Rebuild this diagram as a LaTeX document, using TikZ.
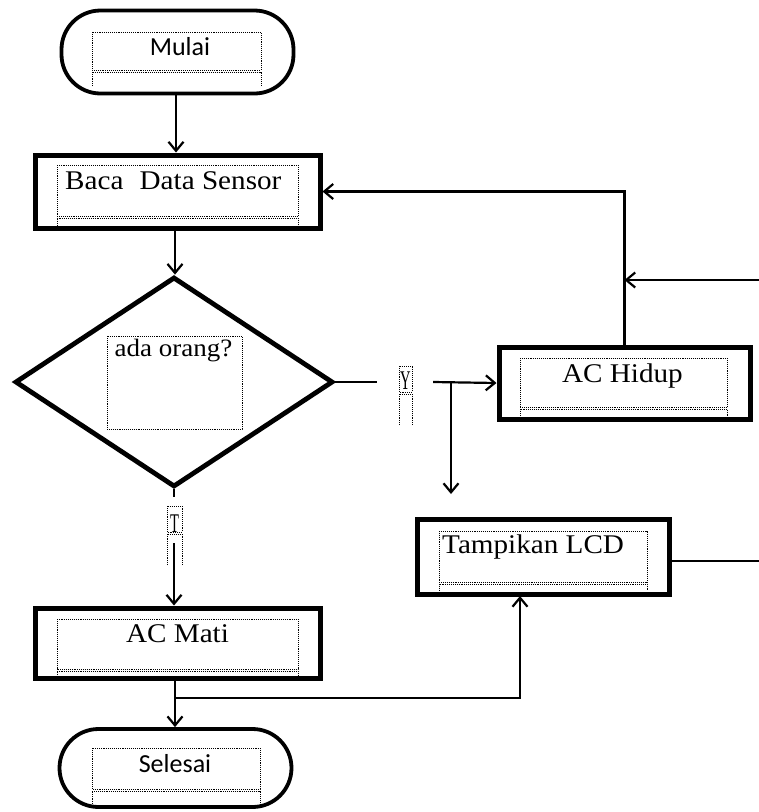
\documentclass[tikz,border=0pt]{standalone}
\usepackage{fontspec}
\usepackage{graphicx}
\usetikzlibrary{shapes.geometric,arrows.meta,calc}
\newfontfamily\serifx[FakeStretch=1.08]{Liberation Serif}
\newfontfamily\sansx{Carlito}
\begin{document}
\begin{tikzpicture}[x=1pt,y=-1pt,
  box/.style={draw, rectangle, line width=5pt, inner sep=0},
  term/.style={draw, rectangle, rounded corners=39pt, line width=3.8pt, inner sep=0},
  dec/.style={draw, diamond, line width=4.8pt, inner sep=0},
  conn/.style={line width=2.2pt},
  arr/.style={conn, -{Straight Barb[length=9pt,width=15pt,line width=2.2pt]}},
  dotbox/.style={draw, densely dotted, line width=0.9pt},
  lbl/.style={inner sep=0, anchor=base},
  gap/.style={inner sep=0, minimum width=1pt, minimum height=1pt},
  stxt/.style={lbl, font=\serifx\fontsize{27}{30}\selectfont},
  ttxt/.style={lbl, font=\sansx\fontsize{26}{30}\selectfont}
]
\useasboundingbox (0,0) rectangle (759,812);

% shapes
\node[term, minimum width=232pt, minimum height=83pt] (mulai) at (177.5,52) {};
\node[box, minimum width=285pt, minimum height=73pt] (baca) at (177.5,191.5) {};
\node[dec, minimum width=318pt, minimum height=210pt] (dia) at (174,382) {};
\node[box, minimum width=251pt, minimum height=72pt] (achidup) at (624.5,383) {};
\node[box, minimum width=252pt, minimum height=75pt] (lcd) at (543,556.5) {};
\node[box, minimum width=285pt, minimum height=70pt] (acmati) at (177.5,643) {};
\node[term, minimum width=232pt, minimum height=78pt] (selesai) at (175.5,768) {};

% dotted text boxes
\draw[dotbox] (92,32) rectangle (261,70);
\draw[dotbox] (92,86) -- (92,72) -- (261,72) -- (261,86);
\draw[dotbox] (57,165) rectangle (298,216);
\draw[dotbox] (57,226) -- (57,218) -- (298,218) -- (298,226);
\draw[dotbox] (107,336) rectangle (242,429);
\draw[dotbox] (399,366) rectangle (412,392);
\draw[dotbox] (399,425) -- (399,394) -- (412,394) -- (412,425);
\draw[dotbox] (520,358) rectangle (727,407);
\draw[dotbox] (520,416) -- (520,409) -- (727,409) -- (727,416);
\draw[dotbox] (439,531) rectangle (647,582);
\draw[dotbox] (439,591) -- (439,584) -- (647,584) -- (647,591);
\draw[dotbox] (167,506) rectangle (182,532);
\draw[dotbox] (167,565) -- (167,534) -- (182,534) -- (182,565);
\draw[dotbox] (57,619) rectangle (298,669);
\draw[dotbox] (57,677) -- (57,671) -- (298,671) -- (298,677);
\draw[dotbox] (92,748) rectangle (260,789);
\draw[dotbox] (92,806) -- (92,791) -- (260,791) -- (260,806);

% texts
\node[ttxt] (tmulai) at (180,55) {Mulai};
\node[stxt, anchor=base west] (tbaca) at (65,189) {Baca\hspace{0.6em}Data Sensor};
\node[lbl, font=\serifx\fontsize{25}{28}\selectfont] (tdia) at (173.5,356) {ada orang?};
\node[stxt] (tachidup) at (622.5,382) {AC Hidup};
\node[stxt, anchor=base west] (tlcd) at (442,553) {Tampikan LCD};
\node[stxt] (tacmati) at (177.5,642) {AC Mati};
\node[ttxt] (tselesai) at (175,772) {Selesai};
\node[stxt] (ylab) at (405.5,389) {\scalebox{0.5}[1]{Y}};
\node[stxt] (tlab) at (174.5,532) {\scalebox{0.5}[1]{T}};

% gaps behind labels
\node[gap, minimum width=56pt] (ygap) at (405,382) {};
\node[gap, minimum height=46pt] (tgap) at (174,520) {};
\coordinate (jy) at (451,382);
\coordinate (downend) at (451,494);
\coordinate (rin) at (759,280);
\coordinate (rout) at (759,561);
\coordinate (jm) at (175,698);
\coordinate (lcdin) at (520,596);

% connectors
\draw[arr] (mulai.south -| 176,0) -- (baca.north -| 176,0);
\draw[arr] (baca.south -| 175,0) -- (dia.north -| 175,0);
\draw[conn] (dia.east) -- (ygap.west);
\draw[arr] (ygap.east) -- (achidup.west);
\draw[arr] (jy) -- (downend);
\draw[arr] (achidup.north) |- (baca.east);
\draw[arr] (rin) -- (rin -| achidup.north);
\draw[conn] (rout -| lcd.east) -- (rout);
\draw[conn] (dia.south) -- (tgap.north);
\draw[arr] (tgap.south) -- (tgap.south |- acmati.north);
\draw[arr] (acmati.south -| 175,0) -- (selesai.north -| 175,0);
\draw[arr] (jm) -| (lcdin);
\end{tikzpicture}
\end{document}
